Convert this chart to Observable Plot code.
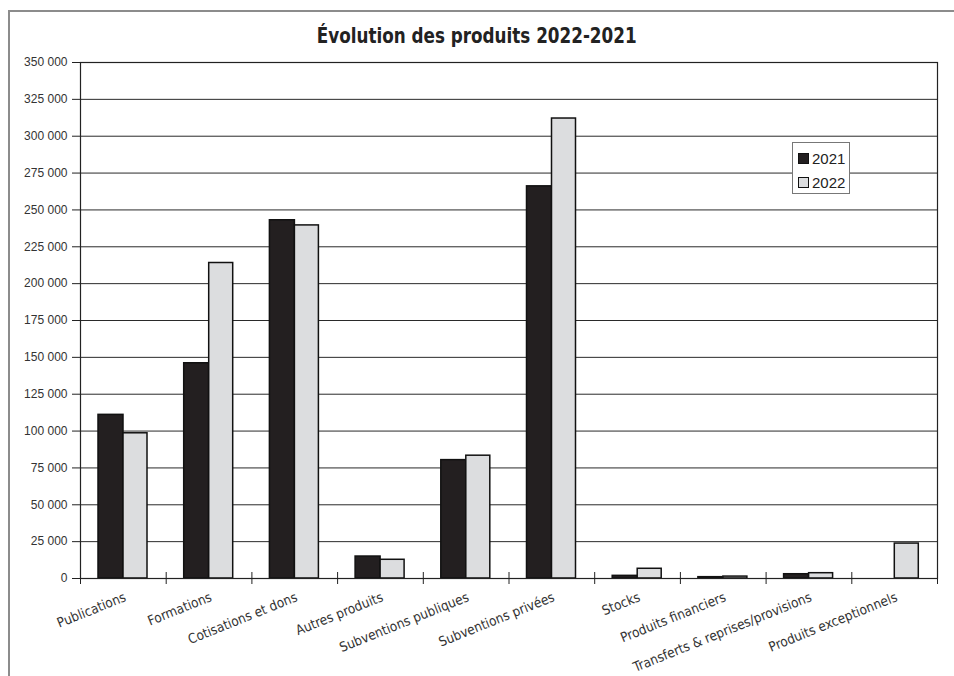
<!DOCTYPE html>
<html>
<head>
<meta charset="utf-8">
<script src="https://cdn.jsdelivr.net/npm/d3@7"></script>
<script src="https://cdn.jsdelivr.net/npm/@observablehq/plot@0.6"></script>
<style>
  body { margin: 0; background: #fff; }
  #wrap { position: relative; width: 954px; height: 676px; overflow: hidden; background: #fff; }
  #page-frame {
    position: absolute; left: 8px; top: 10px; right: -10px; bottom: -10px;
    border-left: 2px solid #8c8c8c; border-top: 2px solid #8c8c8c;
  }
  #title {
    position: absolute; left: 0; top: 0; width: 954px; height: 50px;
    text-align: center; font-family: "DejaVu Sans Condensed", "DejaVu Sans", sans-serif;
    font-weight: bold; font-size: 20.5px; line-height: 1; color: #222;
    box-sizing: border-box; padding-top: 26px;
  }
  #title span { display: inline-block; transform: scaleX(0.91); transform-origin: center; }
  #chart { position: absolute; left: 0; top: 50px; }
  #legend {
    position: absolute; left: 792px; top: 142px; width: 58px; height: 52px;
    border: 1px solid #777; background: #fff; box-sizing: border-box;
    font-family: "Liberation Sans", Arial, sans-serif; font-size: 15px; color: #222;
  }
  #legend .row { position: absolute; left: 5px; height: 12px; display: flex; align-items: center; }
  #legend .sw { width: 9px; height: 9px; border: 1px solid #111; margin-right: 3px; }
</style>
</head>
<body>
<div id="wrap">
  <div id="page-frame"></div>
  <div id="title"><span>Évolution des produits 2022-2021</span></div>
  <div id="chart"></div>
  <div id="legend"></div>
</div>
<script>
// Product categories and yearly amounts (euros)
const categories = [
  "Publications",
  "Formations",
  "Cotisations et dons",
  "Autres produits",
  "Subventions publiques",
  "Subventions privées",
  "Stocks",
  "Produits financiers",
  "Transferts & reprises/provisions",
  "Produits exceptionnels"
];
const years = ["2021", "2022"];
const values2021 = [111000, 146000, 243000, 14900, 80300, 266000, 1800, 900, 2900, 0];
const values2022 = [98500, 214000, 239500, 12700, 83300, 312000, 6600, 1300, 3600, 23700];
const yTicks = [0, 25000, 50000, 75000, 100000, 125000, 150000, 175000, 200000,
                225000, 250000, 275000, 300000, 325000, 350000];

const colors = { "2021": "#231f20", "2022": "#dcdddf" };

const rows = categories.flatMap((c, i) => [
  { category: c, year: "2021", value: values2021[i] },
  { category: c, year: "2022", value: values2022[i] }
]).filter(d => d.value > 0);

const fr = d3.formatLocale({ decimal: ",", thousands: "\u00a0", grouping: [3], currency: ["", " €"] });
const fmt = fr.format(",");

const W = 954, H = 626;
const mL = 80, mR = 17, mT = 12, mB = 98;
const band = (W - mL - mR) / categories.length;

const barStyle = { x: "category", y: "value", stroke: "#111", strokeWidth: 1.5 };

const chart = Plot.plot({
  width: W,
  height: H,
  marginLeft: mL,
  marginRight: mR,
  marginTop: mT,
  marginBottom: mB,
  style: { fontFamily: "Liberation Sans, Arial, sans-serif", fontSize: "12px", color: "#333", background: "transparent" },
  x: { type: "band", domain: categories, padding: 0, round: false },
  y: { domain: [0, 350000] },
  color: { domain: years, range: years.map(y => colors[y]) },
  marks: [
    Plot.gridY(yTicks, { stroke: "#2a2a2a", strokeOpacity: 1 }),
    Plot.barY(rows.filter(d => d.year === "2021"), {
      ...barStyle, fill: "year", insetLeft: 18, insetRight: band - 43
    }),
    Plot.barY(rows.filter(d => d.year === "2022"), {
      ...barStyle, fill: "year", insetLeft: 43, insetRight: band - 67
    }),
    Plot.frame({ stroke: "#222", strokeWidth: 1.2 }),
    Plot.axisY(yTicks, { tickSize: 8, tickPadding: 5, tickFormat: fmt, label: null, stroke: "#222" }),
    // category boundary ticks crossing the baseline
    Plot.axisX(categories, { tickSize: 12, dy: -6, dx: -band / 2, tickFormat: () => "", label: null, stroke: "#222" }),
    Plot.axisX(categories.slice(-1), { tickSize: 12, dy: -6, dx: band / 2, tickFormat: () => "", label: null, stroke: "#222" }),
    // rotated category labels
    Plot.axisX(categories, {
      tickSize: 0, tickPadding: 18, tickRotate: -22, label: null, dx: 2,
      fontFamily: "DejaVu Sans Condensed, DejaVu Sans, sans-serif", fontSize: 13.5, fill: "#333"
    })
  ]
});
document.getElementById("chart").append(chart);

// legend
const legend = document.getElementById("legend");
years.forEach((y, i) => {
  const row = document.createElement("div");
  row.className = "row";
  row.style.top = (9 + i * 24) + "px";
  const sw = document.createElement("span");
  sw.className = "sw";
  sw.style.background = colors[y];
  const t = document.createElement("span");
  t.textContent = y;
  row.append(sw, t);
  legend.append(row);
});
</script>
</body>
</html>
